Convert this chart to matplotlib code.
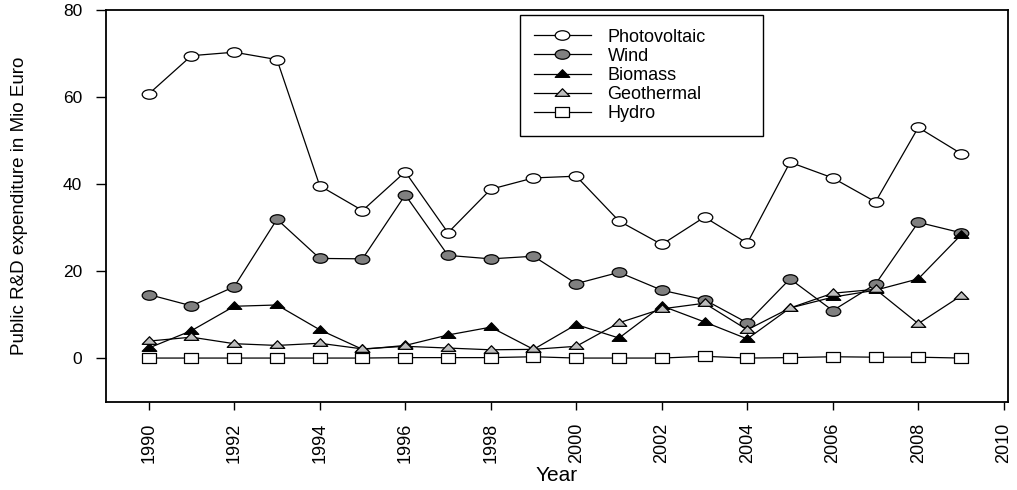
import matplotlib
matplotlib.use('Agg')
import matplotlib.pyplot as plt
from matplotlib.path import Path
from matplotlib.transforms import Affine2D
import numpy as np

plt.rcParams['font.family'] = ['Liberation Sans', 'DejaVu Sans']

# Data (Mio Euro)
years = list(range(1990, 2010))
photovoltaic = [60.7, 69.5, 70.3, 68.6, 39.6, 33.9, 42.8, 28.8, 38.8, 41.4,
                41.8, 31.5, 26.1, 32.4, 26.4, 45.0, 41.4, 35.9, 53.0, 47.0]
wind = [14.6, 12.0, 16.4, 31.9, 22.9, 22.8, 37.5, 23.6, 22.8, 23.4,
        17.1, 19.7, 15.6, 13.4, 8.1, 18.2, 10.9, 17.0, 31.2, 28.8]
biomass = [2.3, 6.3, 11.9, 12.2, 6.5, 2.0, 2.9, 5.3, 7.1, 2.0,
           7.7, 4.6, 12.0, 8.3, 4.4, 11.5, 14.0, 15.6, 18.2, 28.3]
geothermal = [3.9, 4.8, 3.3, 2.9, 3.4, 2.1, 2.7, 2.3, 1.9, 2.0,
              2.7, 8.1, 11.3, 12.6, 6.5, 11.5, 14.9, 15.8, 7.9, 14.3]
hydro = [0.0, 0.0, 0.0, 0.0, 0.0, 0.0, 0.1, 0.1, 0.1, 0.3,
         0.0, 0.0, 0.0, 0.4, 0.0, 0.1, 0.3, 0.2, 0.2, 0.0]

x_ticks = list(range(1990, 2011, 2))
y_ticks = [0, 20, 40, 60, 80]

# markers look horizontally stretched in the original, so squash them
squash = Affine2D().scale(1.0, 0.65)
ellipse = squash.transform_path(Path.unit_circle())
square = squash.transform_path(Path.unit_rectangle().transformed(Affine2D().translate(-0.5, -0.5)))
triangle = squash.transform_path(Path([(-1, -0.6), (1, -0.6), (0, 1.0), (-1, -0.6)], closed=True))

series = [
    ('Photovoltaic', photovoltaic, ellipse, 'white'),
    ('Wind', wind, ellipse, '#808080'),
    ('Biomass', biomass, triangle, 'black'),
    ('Geothermal', geothermal, triangle, '#bebebe'),
    ('Hydro', hydro, square, 'white'),
]

fig = plt.figure(figsize=(10.17, 4.9), dpi=100)
ax = fig.add_axes([0.1042, 0.1796, 0.8870, 0.8000])

for name, vals, marker, fill in series:
    ax.plot(years, vals, color='black', linewidth=0.9, marker=marker,
            markersize=10.5, markerfacecolor=fill, markeredgecolor='black',
            markeredgewidth=0.9, label=name)

ax.set_xlim(1989.0, 2010.1)
ax.set_ylim(-10.1, 80)
ax.set_xticks(x_ticks)
ax.set_yticks(y_ticks)
ax.tick_params(axis='x', direction='out', length=6, width=1, labelsize=13,
               labelrotation=90, pad=9)
ax.tick_params(axis='y', direction='out', length=7, width=1, labelsize=12.5, pad=10)
for sp in ax.spines.values():
    sp.set_linewidth(1.3)

ax.set_xlabel('Year', fontsize=15, labelpad=2)
ax.set_ylabel('Public R&D expenditure in Mio Euro', fontsize=13.5, labelpad=25)

leg = ax.legend(loc='upper left', bbox_to_anchor=(0.459, 0.714, 0.269, 0.273),
                mode='expand', borderaxespad=0, fontsize=13, handlelength=3.2,
                handletextpad=0.9, labelspacing=0.12, borderpad=0.75,
                fancybox=False, framealpha=1, edgecolor='black')
leg.get_frame().set_linewidth(1.0)

plt.savefig('out.png', dpi=100)
plt.close()
